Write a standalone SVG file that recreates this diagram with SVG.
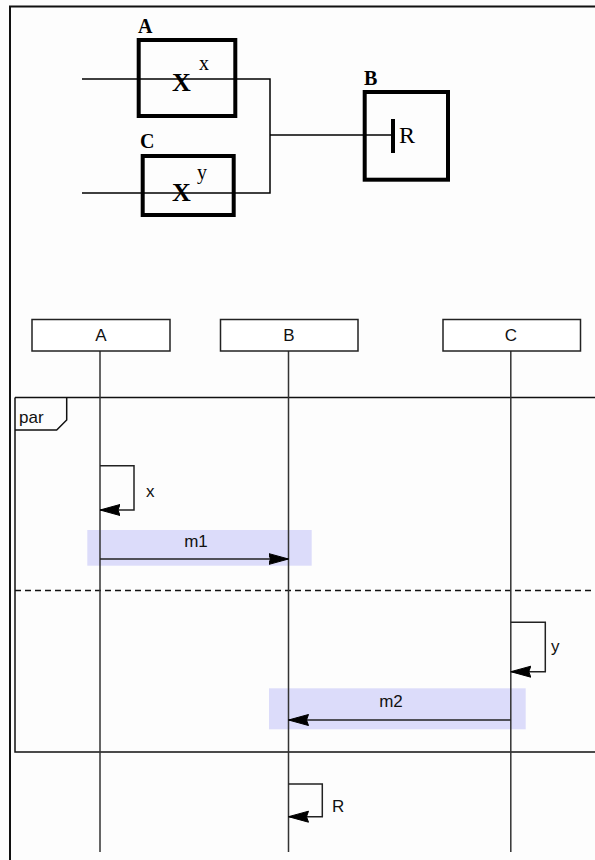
<svg xmlns="http://www.w3.org/2000/svg" width="595" height="860" viewBox="0 0 595 860">
<style>
.bg{fill:#fdfdfd}
.thick{fill:none;stroke:#000;stroke-width:4}
.wire{fill:none;stroke:#000;stroke-width:1.5}
.serifB{font-family:"Liberation Serif",serif;font-weight:bold;fill:#000}
.serif{font-family:"Liberation Serif",serif;fill:#000}
.head{fill:#fff;stroke:#222;stroke-width:1.5}
.life{fill:none;stroke:#333;stroke-width:1.5}
.sans{font-family:"Liberation Sans",Arial,sans-serif;fill:#111;font-size:17px}
.hl{fill:#dcdcfa}
.msg{fill:none;stroke:#222;stroke-width:1.5}
</style>
<defs>
<marker id="ah" markerUnits="userSpaceOnUse" markerWidth="22" markerHeight="14" refX="20" refY="6.5" orient="auto">
<polygon points="0,1 20,6.5 0,12 2,6.5" fill="#000" stroke="#000" stroke-width="1"/>
</marker>
</defs>
<rect class="bg" x="0" y="0" width="595" height="860"/>
<g id="border">
<path d="M10,860 V6.5 H595" fill="none" stroke="#111" stroke-width="2"/>
</g>

<g id="top-connectors">
<path class="wire" d="M82,79 H270 V193 H82"/>
<path class="wire" d="M270,135 H393"/>
</g>
<g id="nodeA">
<rect class="thick" x="138.7" y="40" width="96.6" height="76"/>
<text class="serifB" x="138" y="33" font-size="20">A</text>
<text class="serifB" x="172" y="91" font-size="26">X</text>
<text class="serif" x="199" y="70" font-size="20">x</text>
</g>
<g id="nodeC">
<rect class="thick" x="142.7" y="156" width="91" height="59"/>
<text class="serifB" x="140" y="148" font-size="20">C</text>
<text class="serifB" x="172" y="201" font-size="26">X</text>
<text class="serif" x="197" y="179" font-size="20">y</text>
</g>
<g id="nodeB">
<rect class="thick" x="364.7" y="92" width="83.3" height="87.7"/>
<text class="serifB" x="364" y="85" font-size="20">B</text>
<rect x="391" y="119" width="4" height="34" fill="#000"/>
<text class="serif" x="399" y="143" font-size="24">R</text>
</g>

<g id="par-frame">
<path d="M15,397.5 H600 M15,397.5 V752 H600" fill="none" stroke="#111" stroke-width="1.5"/>
<path d="M66.7,397.5 V420 L56.7,430 H15" fill="none" stroke="#111" stroke-width="1.5"/>
<text class="sans" x="19" y="423">par</text>
<line x1="15" y1="590.5" x2="595" y2="590.5" stroke="#111" stroke-width="1.5" stroke-dasharray="6,4"/>
</g>

<g id="highlights">
<rect class="hl" x="87.3" y="530" width="224.4" height="35.7"/>
<rect class="hl" x="269" y="688.3" width="256.7" height="41"/>
</g>

<g id="lifelines">
<line class="life" x1="100" y1="351" x2="100" y2="852"/>
<line class="life" x1="288.5" y1="351" x2="288.5" y2="852"/>
<line class="life" x1="510.8" y1="351" x2="510.8" y2="852"/>
</g>

<g id="lifelineA">
<rect class="head" x="32" y="319.5" width="138" height="31.5"/>
<text class="sans" x="101" y="341" text-anchor="middle" font-size="16">A</text>
</g>
<g id="lifelineB">
<rect class="head" x="220.5" y="319.5" width="137.5" height="31.5"/>
<text class="sans" x="289" y="341" text-anchor="middle" font-size="16">B</text>
</g>
<g id="lifelineC">
<rect class="head" x="443" y="319.5" width="137.5" height="31.5"/>
<text class="sans" x="511" y="341" text-anchor="middle" font-size="16">C</text>
</g>

<g id="connectors">
<path class="msg" d="M100,465.7 H134 V510 H100" marker-end="url(#ah)"/>
<text class="sans" x="146" y="497">x</text>
<path class="msg" d="M100,559 H288.5" marker-end="url(#ah)"/>
<text class="sans" x="196" y="547" text-anchor="middle">m1</text>
<path class="msg" d="M510.8,622.3 H545.3 V671.7 H510.8" marker-end="url(#ah)"/>
<text class="sans" x="551" y="652">y</text>
<path class="msg" d="M510.8,720 H288.5" marker-end="url(#ah)"/>
<text class="sans" x="391" y="707" text-anchor="middle">m2</text>
<path class="msg" d="M288.5,784 H322.3 V816.7 H288.5" marker-end="url(#ah)"/>
<text class="sans" x="332" y="812">R</text>
</g>
</svg>
